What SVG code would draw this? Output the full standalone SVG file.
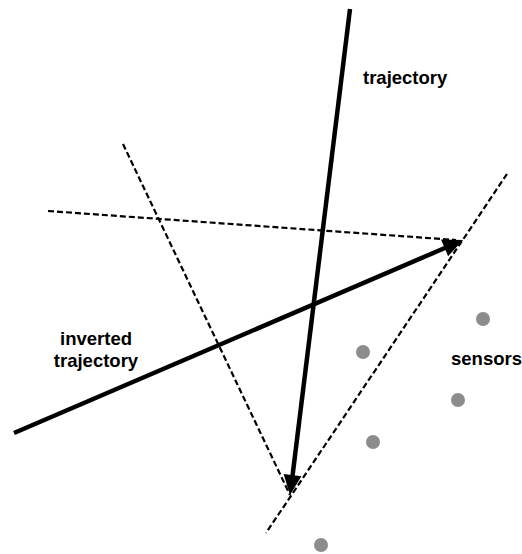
<svg xmlns="http://www.w3.org/2000/svg" width="522" height="554" viewBox="0 0 522 554">
<style>
.thick{stroke:#000;stroke-width:4.5;fill:none}
.dash{stroke:#000;stroke-width:2.2;stroke-dasharray:6,3;fill:none}
.head{fill:#000}
.sensor{fill:#8c8c8c}
.lbl{font-family:"Liberation Sans",Arial,sans-serif;font-weight:bold;font-size:18.5px;fill:#000}
</style>
<rect width="522" height="554" fill="#fff"/>
<g id="connectors">
<line class="dash" x1="48" y1="211" x2="456" y2="240"/>
<line class="dash" x1="123" y1="144" x2="290" y2="495"/>
<line class="dash" x1="507" y1="174" x2="266" y2="533"/>
<line class="thick" x1="350" y1="9" x2="292.5" y2="476"/>
<polygon class="head" points="290,495 301.4,476.3 283.6,474.1"/>
<line class="thick" x1="14" y1="433" x2="446" y2="247.5"/>
<polygon class="head" points="463,240 448.1,256.2 441,239.6"/>
</g>
<g id="sensors">
<circle class="sensor" cx="483" cy="319" r="7"/>
<circle class="sensor" cx="363" cy="352" r="7"/>
<circle class="sensor" cx="458" cy="400" r="7"/>
<circle class="sensor" cx="373" cy="442" r="7"/>
<circle class="sensor" cx="321" cy="545" r="7"/>
</g>
<g id="labels">
<text class="lbl" x="363" y="84">trajectory</text>
<text class="lbl" x="96" y="345" text-anchor="middle">inverted</text>
<text class="lbl" x="96" y="367" text-anchor="middle">trajectory</text>
<text class="lbl" x="451" y="365">sensors</text>
</g>
</svg>
